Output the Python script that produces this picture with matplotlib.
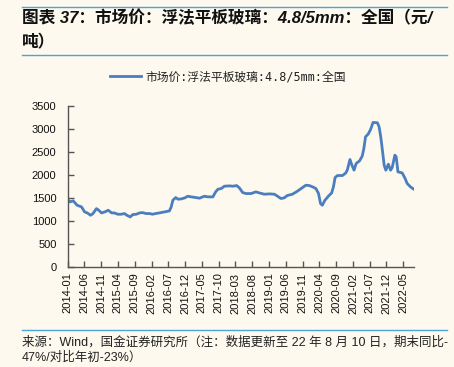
import pandas as pd
import matplotlib
matplotlib.use("Agg")
import matplotlib.pyplot as plt
from matplotlib.lines import Line2D

plt.rcParams['font.family'] = ['Noto Sans CJK SC', 'DejaVu Sans']

# weekly-ish price readings (yuan/ton)
dates = [
    "2014-01-01", "2014-01-22", "2014-02-20", "2014-03-28", "2014-05-07", "2014-06-04",
    "2014-06-28", "2014-07-28", "2014-08-19", "2014-09-19", "2014-10-10", "2014-11-04",
    "2014-12-04", "2015-01-04", "2015-02-04", "2015-03-01", "2015-04-01", "2015-05-01",
    "2015-06-01", "2015-06-22", "2015-07-22", "2015-08-15", "2015-09-15", "2015-10-15",
    "2015-11-10", "2015-12-15", "2016-01-15", "2016-02-10", "2016-03-07", "2016-04-12",
    "2016-05-12", "2016-06-12", "2016-07-12", "2016-07-28", "2016-08-12", "2016-09-07",
    "2016-09-28", "2016-10-28", "2016-11-28", "2016-12-25", "2017-01-25", "2017-03-10",
    "2017-04-10", "2017-05-25", "2017-06-25", "2017-08-10", "2017-09-04", "2017-09-25",
    "2017-10-25", "2017-11-22", "2018-01-07", "2018-02-07", "2018-03-13", "2018-04-07",
    "2018-05-07", "2018-06-07", "2018-07-22", "2018-09-04", "2018-10-04", "2018-11-19",
    "2019-01-04", "2019-02-19", "2019-03-19", "2019-04-19", "2019-05-19", "2019-06-15",
    "2019-08-01", "2019-09-15", "2019-11-01", "2019-12-01", "2020-01-01", "2020-02-01",
    "2020-03-01", "2020-03-25", "2020-04-12", "2020-04-28", "2020-05-22", "2020-06-22",
    "2020-07-22", "2020-08-07", "2020-08-22", "2020-09-12", "2020-10-28", "2020-11-28",
    "2020-12-12", "2021-01-04", "2021-01-22", "2021-02-10", "2021-03-01", "2021-04-01",
    "2021-04-25", "2021-05-10", "2021-05-25", "2021-06-18", "2021-07-10", "2021-08-01",
    "2021-09-10", "2021-09-25", "2021-10-10", "2021-10-25", "2021-11-10", "2021-11-25",
    "2021-12-18", "2022-01-07", "2022-01-22", "2022-02-15", "2022-02-27", "2022-03-15",
    "2022-04-22", "2022-05-15", "2022-06-07", "2022-07-07", "2022-08-10",
]
prices = [
    1467, 1416, 1438, 1343, 1307, 1198,
    1176, 1125, 1162, 1270, 1234, 1176,
    1198, 1234, 1176, 1176, 1147, 1147,
    1162, 1125, 1089, 1140, 1147, 1176,
    1183, 1162, 1162, 1147, 1162, 1176,
    1191, 1205, 1220, 1307, 1452, 1510,
    1474, 1481, 1503, 1539, 1525, 1510,
    1496, 1539, 1525, 1525, 1634, 1692,
    1706, 1757, 1764, 1757, 1771, 1721,
    1619, 1597, 1597, 1634, 1612, 1583,
    1590, 1583, 1539, 1489, 1503, 1554,
    1583, 1648, 1728, 1779, 1771, 1742,
    1706, 1597, 1379, 1343, 1452, 1539,
    1612, 1742, 1945, 1989, 1989, 2047,
    2120, 2338, 2214, 2105, 2251, 2309,
    2411, 2578, 2832, 2890, 2991, 3144,
    3136, 3049, 2832, 2541, 2214, 2105,
    2236, 2105, 2164, 2432, 2396, 2069,
    2047, 1945, 1815, 1742, 1684,
]
tick_months = pd.date_range("2014-01-01", "2022-05-01", freq="5MS")
series_name = "市场价:浮法平板玻璃:4.8/5mm:全国"
title_lines = ["图表 37：市场价：浮法平板玻璃：4.8/5mm：全国（元/", "吨）"]
source_lines = ["来源：Wind，国金证券研究所（注：数据更新至 22 年 8 月 10 日，期末同比-",
                "47%/对比年初-23%）"]

bg = "#FDF9EE"
blue = "#4A7EBF"
rule = "#4BA3D8"
axis_c = "#555555"
latin_cjk = ["Liberation Sans", "Noto Sans CJK SC"]

fig = plt.figure(figsize=(4.54, 3.67), dpi=100, facecolor=bg)
ax = fig.add_axes([0.149, 0.2725, 0.763, 0.4385], facecolor=bg)

x = pd.to_datetime(dates)
ax.plot(x, prices, color=blue, lw=2.0, solid_capstyle="round")

ax.set_ylim(0, 3500)
ax.set_yticks(range(0, 3501, 500))
ax.set_xlim(pd.Timestamp("2014-01-01"), pd.Timestamp("2022-08-08"))
ax.set_xticks(tick_months)
ax.set_xticklabels([d.strftime("%Y-%m") for d in tick_months], rotation=90,
                   family=["Liberation Sans"], fontsize=8)
for lab in ax.get_yticklabels():
    lab.set_family(["Liberation Sans"])
    lab.set_fontsize(8)

for s in ["top", "right"]:
    ax.spines[s].set_visible(False)
for s in ["left", "bottom"]:
    ax.spines[s].set_color(axis_c)
    ax.spines[s].set_linewidth(1.0)
ax.tick_params(direction="in", length=4, color=axis_c, width=1.0, labelcolor="#111111")
ax.tick_params(axis="y", pad=8)
ax.tick_params(axis="x", pad=4)

# legend above the plot
leg = ax.legend([Line2D([0], [0], color=blue, lw=2.0)], [series_name],
                loc="center", bbox_to_anchor=(0.463, 1.18), frameon=False,
                prop={"family": ["DejaVu Sans Mono", "Noto Sans CJK SC"], "size": 8.5},
                handlelength=2.6, handletextpad=0.4)
for t in leg.get_texts():
    t.set_color("#222222")

# title block
fig.add_artist(Line2D([22 / 454, 447 / 454], [1 - 7 / 367] * 2, color=rule, lw=1.0))
fig.add_artist(Line2D([22 / 454, 447 / 454], [1 - 55 / 367] * 2, color=rule, lw=1.0))
for i, line in enumerate(title_lines):
    fig.text(22 / 454, 1 - (18 + 24 * i) / 367, line, fontsize=12, fontweight="bold",
             style="italic", family=latin_cjk, va="center", ha="left", color="#111111")

# source block
fig.add_artist(Line2D([22 / 454, 447 / 454], [1 - 330 / 367] * 2, color=rule, lw=1.0))
for i, line in enumerate(source_lines):
    fig.text(22 / 454, 1 - (342 + 16 * i) / 367, line, fontsize=9, family=latin_cjk,
             va="center", ha="left", color="#222222")

fig.savefig("out.png", dpi=100, facecolor=bg)
